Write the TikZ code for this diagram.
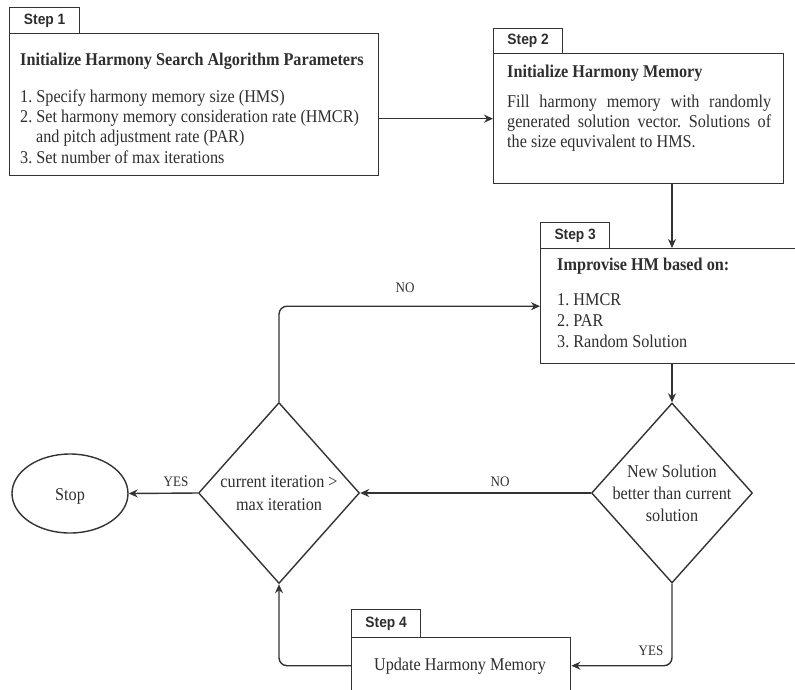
\documentclass[tikz,border=0pt]{standalone}
\usepackage{fontspec}
\setmainfont{Liberation Serif}[FakeStretch=0.9]
\newfontfamily\tabfont{Liberation Sans}[FakeStretch=0.92]
\usetikzlibrary{shapes.geometric,arrows.meta}
\definecolor{ink}{HTML}{2E2E2E}
\definecolor{edge}{HTML}{333333}
\frenchspacing
\tikzset{
  bx/.style={draw=edge, line width=1.4pt, rectangle, anchor=north west, inner sep=0pt},
  tabbox/.style={bx, font=\tabfont\bfseries\fontsize{15}{17}\selectfont, text=ink},
  ln/.style={anchor=base west, inner sep=0pt, text=ink, font=\fontsize{18}{20}\selectfont},
  hd/.style={ln, font=\bfseries\fontsize{18}{20}\selectfont},
  ctr/.style={anchor=base, inner sep=0pt, text=ink, font=\fontsize{18}{20}\selectfont},
  lab/.style={anchor=base, inner sep=0pt, text=ink, font=\fontsize{14.5}{16}\selectfont},
  dia/.style={draw=edge, line width=1.4pt, diamond, inner sep=0pt, aspect=0.9},
  arr/.style={draw=edge, line width=1.4pt, -{Stealth[length=9pt,width=8pt]}, rounded corners=8pt},
}
\begin{document}
\begin{tikzpicture}[x=1pt,y=-1pt]
\useasboundingbox (0,0) rectangle (795,689);
\clip (0,0) rectangle (795,689);
% Step 1
\node[tabbox, minimum width=70pt, minimum height=26pt] (tab1) at (9,7) {Step 1};
\node[bx, minimum width=369pt, minimum height=142pt] (box1) at (9,33) {};
\node[hd] (b1t) at (20,65) {Initialize Harmony Search Algorithm Parameters};
\node[ln] (b1a) at (20,102) {1. Specify harmony memory size (HMS)};
\node[ln] (b1b) at (20,122) {2. Set harmony memory consideration rate (HMCR)};
\node[ln] (b1c) at (36,142) {and pitch adjustment rate (PAR)};
\node[ln] (b1d) at (20,163) {3. Set number of max iterations};
% Step 2
\node[tabbox, minimum width=69pt, minimum height=25pt] (tab2) at (493,28) {Step 2};
\node[bx, minimum width=290pt, minimum height=130pt] (box2) at (493,53) {};
\node[hd] (b2t) at (507,77) {Initialize Harmony Memory};
\node[anchor=north west, inner sep=0pt, text=ink, font=\fontsize{18}{20}\selectfont] (b2x) at (507,95)
  {\parbox{264pt}{Fill harmony memory with randomly\linebreak generated solution vector. Solutions of\linebreak the size equvivalent to HMS.}};
% Step 3
\node[tabbox, minimum width=69pt, minimum height=26pt] (tab3) at (540,222) {Step 3};
\node[bx, minimum width=280pt, minimum height=115pt] (box3) at (540,248) {};
\node[hd] (b3t) at (557,270) {Improvise HM based on:};
\node[ln] (b3a) at (557,305) {1. HMCR};
\node[ln] (b3b) at (557,326) {2. PAR};
\node[ln] (b3c) at (557,347) {3. Random Solution};
% Decisions
\node[dia, minimum width=161pt, minimum height=180pt] (d1) at (672,493) {};
\node[ctr] (d1a) at (672,477) {New Solution};
\node[ctr] (d1b) at (672,499) {better than current};
\node[ctr] (d1c) at (672,521) {solution};
\node[dia, minimum width=161pt, minimum height=181pt] (d2) at (279,493) {};
\node[ctr] (d2a) at (279,487) {current iteration >};
\node[ctr] (d2b) at (279,510) {max iteration};
% Stop
\node[draw=edge, line width=1.4pt, ellipse, minimum width=116pt, minimum height=79pt, inner sep=0pt] (stop) at (70,493.5) {};
\node[ctr] (stopt) at (70,500) {Stop};
% Step 4
\node[tabbox, minimum width=69pt, minimum height=28pt] (tab4) at (351,609) {Step 4};
\node[bx, minimum width=219pt, minimum height=56pt] (box4) at (351,637) {};
\node[ctr] (b4t) at (460,670) {Update Harmony Memory};
% Connectors
\draw[arr] (box1.east |- box2.west) -- (box2.west);
\draw[arr] (d1.north |- box2.south) -- (d1.north |- box3.north);
\draw[arr] (d1.north |- box3.south) -- (d1.north);
\draw[arr] (d1.west) -- (d2.east);
\draw[arr] (d2.west) -- (stop.east);
\draw[arr] (d1.south) |- (box4.east);
\draw[arr] (box4.west) -| (d2.south);
\draw[arr] (d2.north) |- (box3.west);
% Labels
\node[lab] (lno1) at (405,292) {NO};
\node[lab] (lno2) at (500,486) {NO};
\node[lab] (lyes1) at (176,486) {YES};
\node[lab] (lyes2) at (651,655) {YES};
\end{tikzpicture}
\end{document}
